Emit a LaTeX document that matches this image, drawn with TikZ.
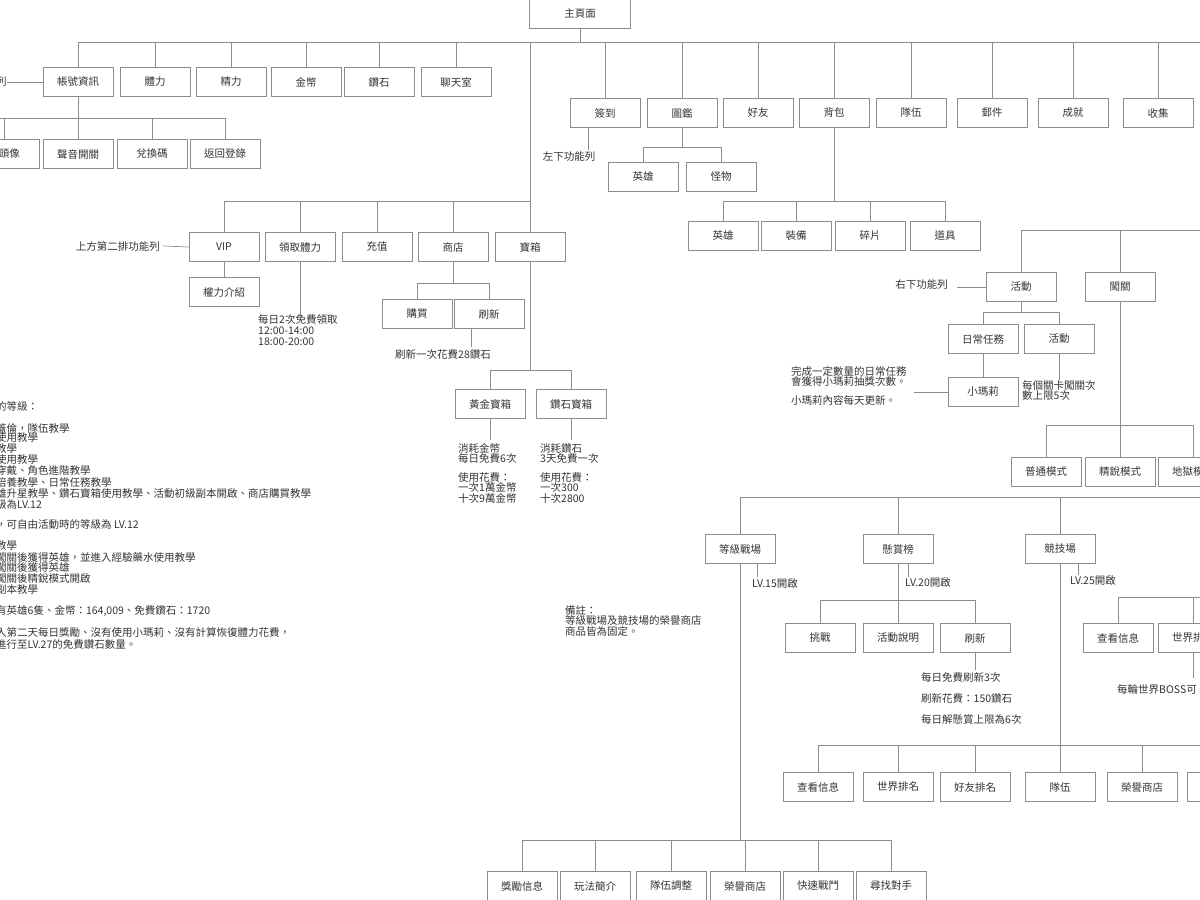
\documentclass[tikz,border=0pt]{standalone}
\usepackage{fontspec}
\setmainfont{Noto Sans CJK TC}
\begin{document}
\begin{tikzpicture}[x=1pt,y=-1pt,
  bx/.style={draw=black!45,line width=0.8pt,minimum width=70pt,minimum height=29pt,inner sep=0pt,text=black!80,font=\fontsize{10.5}{12}\selectfont},
  ln/.style={draw=black!45,line width=0.7pt},
  tx/.style={anchor=west,inner sep=0pt,text=black!80,font=\fontsize{10.5}{11}\selectfont,align=left},
  every node/.append style={}]
\useasboundingbox (0,0) rectangle (1200,900);
\clip (0,0) rectangle (1200,900);
% top
\node[bx,minimum width=101pt] (zhu) at (580,14) {主頁面};
\coordinate (h1) at (580,42);
\draw[ln] (zhu.south) -- (h1);
\draw[ln] (78,42) -- (1200,42);
\foreach \n/\x/\t in {zh/78/帳號資訊,tl/155/體力,jl/231/精力,jb/306/金幣,zs/379/鑽石,lt/456/聊天室}{
  \node[bx] (\n) at (\x,82) {\t};
  \draw[ln] (\n.north) -- (\x,42);}
\node[tx] (lie) at (-4,82) {列};
\draw[ln] (lie.east) -- (zh.west);
\draw[ln] (zh.south) -- (78,118);
\draw[ln] (-5,118) -- (225,118);
\foreach \n/\x/\t in {hx/4/換頭像,sy/78/聲音開關,dh/152/兌換碼,fh/225/返回登錄}{
  \node[bx] (\n) at (\x,154) {\t};
  \draw[ln] (\n.north) -- (\x,118);}
% trunk to second row
\node[bx] (bx5) at (530,247) {寶箱};
\draw[ln] (530,42) -- (bx5.north);
\draw[ln] (224,201) -- (530,201);
\foreach \n/\x/\t in {vip/224/VIP,lqtl/300/領取體力,cz/377/充值,sd/453/商店}{
  \node[bx] (\n) at (\x,247) {\t};
  \draw[ln] (\n.north) -- (\x,201);}
\node[tx,anchor=east] (sec) at (160,246) {上方第二排功能列};
\draw[ln] (sec.east)++(3,0) -- (vip.west);
\node[bx] (qljs) at (224,292) {權力介紹};
\draw[ln] (vip.south) -- (qljs.north);
\coordinate (lqt) at (300,316);
\draw[ln] (lqtl.south) -- (lqt);
\node[tx,anchor=north west] at (258,314) {每日2次免費領取\\12:00-14:00\\18:00-20:00};
\draw[ln] (sd.south) -- (453,283);
\draw[ln] (417,283) -- (489,283);
\node[bx] (gm) at (417,314) {購買};
\node[bx] (sx) at (489,314) {刷新};
\draw[ln] (gm.north) -- (417,283);
\draw[ln] (sx.north) -- (489,283);
\node[tx,anchor=center] (sxt) at (443,354) {刷新一次花費28鑽石};
\draw[ln] (471,328.5) -- (471,347);
\draw[ln] (bx5.south) -- (530,370);
\draw[ln] (490,370) -- (571,370);
\node[bx] (hj) at (490,404) {黃金寶箱};
\node[bx] (zsb) at (571,404) {鑽石寶箱};
\draw[ln] (hj.north) -- (490,370);
\draw[ln] (zsb.north) -- (571,370);
\draw[ln] (hj.south) -- (490,440);
\draw[ln] (zsb.south) -- (571,440);
\node[tx,anchor=north west,font=\fontsize{10.5}{10.5}\selectfont] at (458,443) {消耗金幣\\每日免費6次\\[8pt]使用花費：\\一次1萬金幣\\十次9萬金幣};
\node[tx,anchor=north west,font=\fontsize{10.5}{10.5}\selectfont] at (540,443) {消耗鑽石\\3天免費一次\\[8pt]使用花費：\\一次300\\十次2800};
% left notes
\foreach \y/\t in {406/的等級：,428/蓋倫，隊伍教學,438/使用教學,449/教學,460/使用教學,471/穿戴、角色進階教學,482/培養教學、日常任務教學,493/雄升星教學、鑽石寶箱使用教學、活動初級副本開啟、商店購買教學,504/級為LV.12,524/，可自由活動時的等級為 LV.12,546/教學,557/闖關後獲得英雄，並進入經驗藥水使用教學,568/闖關後獲得英雄,579/闖關後精銳模式開啟,590/副本教學,611/有英雄6隻、金幣：164{,}009、免費鑽石：1720,632/入第二天每日獎勵、沒有使用小瑪莉、沒有計算恢復體力花費，,644/進行至LV.27的免費鑽石數量。}{
  \node[tx] at (-4,\y) {\t};}
% right top row
\foreach \n/\x/\t in {qd/605/簽到,tj/682/圖鑑,hy/758/好友,bb/834/背包,dw/911/隊伍,yj/992/郵件,cj/1073/成就,sj/1158/收集}{
  \node[bx] (\n) at (\x,113) {\t};
  \draw[ln] (\n.north) -- (\x,42);}
\node[tx,anchor=center] (zx) at (569,157) {左下功能列};
\draw[ln] (588,128) -- (588,150);
\draw[ln] (tj.south) -- (682,147);
\draw[ln] (643,147) -- (721,147);
\node[bx] (yx1) at (643,177) {英雄};
\node[bx] (gw) at (721,177) {怪物};
\draw[ln] (yx1.north) -- (643,147);
\draw[ln] (gw.north) -- (721,147);
\draw[ln] (bb.south) -- (834,201);
\draw[ln] (723,201) -- (945,201);
\foreach \n/\x/\t in {yx2/723/英雄,zb/796/裝備,sp/870/碎片,dj/945/道具}{
  \node[bx] (\n) at (\x,236) {\t};
  \draw[ln] (\n.north) -- (\x,201);}
% activity
\draw[ln] (1021,230) -- (1200,230);
\node[bx] (hd) at (1021,287) {活動};
\node[bx] (cg) at (1120,287) {闖關};
\draw[ln] (hd.north) -- (1021,230);
\draw[ln] (cg.north) -- (1120,230);
\node[tx,anchor=east] (yx) at (948,285) {右下功能列};
\draw[ln] (957,287) -- (hd.west);
\draw[ln] (hd.south) -- (1021,312);
\draw[ln] (983,312) -- (1059,312);
\node[bx] (rc) at (983,339) {日常任務};
\node[bx] (hd2) at (1059,339) {活動};
\draw[ln] (rc.north) -- (983,312);
\draw[ln] (hd2.north) -- (1059,312);
\node[bx] (xml) at (983,392) {小瑪莉};
\draw[ln] (rc.south) -- (xml.north);
\draw[ln] (hd2.south) -- (1059,380);
\node[tx,anchor=north west,font=\fontsize{10.5}{10.5}\selectfont] at (1022,380) {每個關卡闖關次\\數上限5次};
\node[tx,anchor=north west,font=\fontsize{10.5}{10.5}\selectfont] (xmt) at (791,366) {完成一定數量的日常任務\\會獲得小瑪莉抽獎次數。\\[8pt]小瑪莉內容每天更新。};
\draw[ln] (914,392) -- (xml.west);
\draw[ln] (cg.south) -- (1120,425);
\draw[ln] (1046,425) -- (1193,425);
\foreach \n/\x/\t in {pt/1046/普通模式,jr/1120/精銳模式,dy/1193/地獄模式}{
  \node[bx] (\n) at (\x,472) {\t};
  \draw[ln] (\n.north) -- (\x,425);}
% battle
\draw[ln] (740,497) -- (1200,497);
\node[bx] (djzc) at (740,549) {等級戰場};
\node[bx] (xsb) at (898,549) {懸賞榜};
\node[bx] (jjc) at (1060,549) {競技場};
\foreach \n/\x in {djzc/740,xsb/898,jjc/1060}{\draw[ln] (\n.north) -- (\x,497);}
\draw[ln] (757,564) -- (757,577);
\node[tx] at (752,584) {LV.15開啟};
\draw[ln] (908,564) -- (908,577);
\node[tx] at (905,583) {LV.20開啟};
\draw[ln] (1078,564) -- (1078,575);
\node[tx] at (1070,581) {LV.25開啟};
\node[tx,anchor=north west,font=\fontsize{10.5}{10.5}\selectfont] at (565,605) {備註：\\等級戰場及競技場的榮譽商店\\商品皆為固定。};
% bounty
\draw[ln] (xsb.south) -- (898,600);
\draw[ln] (820,600) -- (975,600);
\foreach \n/\x/\t in {tz/820/挑戰,hdsm/898/活動說明,sx2/975/刷新}{
  \node[bx] (\n) at (\x,638) {\t};
  \draw[ln] (\n.north) -- (\x,600);}
\draw[ln] (sx2.south) -- (975,670);
\node[tx] at (921,677) {每日免費刷新3次};
\node[tx] at (921,698) {刷新花費：150鑽石};
\node[tx] at (921,719) {每日解懸賞上限為6次};
% world boss
\draw[ln] (1118,597) -- (1200,597);
\node[bx] (ckxx2) at (1118,638) {查看信息};
\node[bx] (sjpm2) at (1193,638) {世界排名};
\draw[ln] (ckxx2.north) -- (1118,597);
\draw[ln] (sjpm2.north) -- (1193,597);
\draw[ln] (sjpm2.south) -- (1193,678);
\node[tx] at (1117,689) {每輪世界BOSS可};
% arena
\draw[ln] (jjc.south) -- (1060,745);
\draw[ln] (818,745) -- (1200,745);
\foreach \n/\x/\t in {ckxx/818/查看信息,sjpm/898/世界排名,hypm/975/好友排名,dw2/1060/隊伍,rysd/1142/榮譽商店,xx/1222/{}}{
  \node[bx] (\n) at (\x,787) {\t};
  \draw[ln] (\n.north) -- (\x,745);}
% level battle
\draw[ln] (djzc.south) -- (740,840);
\draw[ln] (522,840) -- (891,840);
\foreach \n/\x/\t in {jlxx/522/獎勵信息,wfjj/595/玩法簡介,dwtz/671/隊伍調整,rysd2/745/榮譽商店,ksd/818/快速戰鬥,xzds/891/尋找對手}{
  \node[bx] (\n) at (\x,886) {\t};
  \draw[ln] (\n.north) -- (\x,840);}
\end{tikzpicture}
\end{document}
